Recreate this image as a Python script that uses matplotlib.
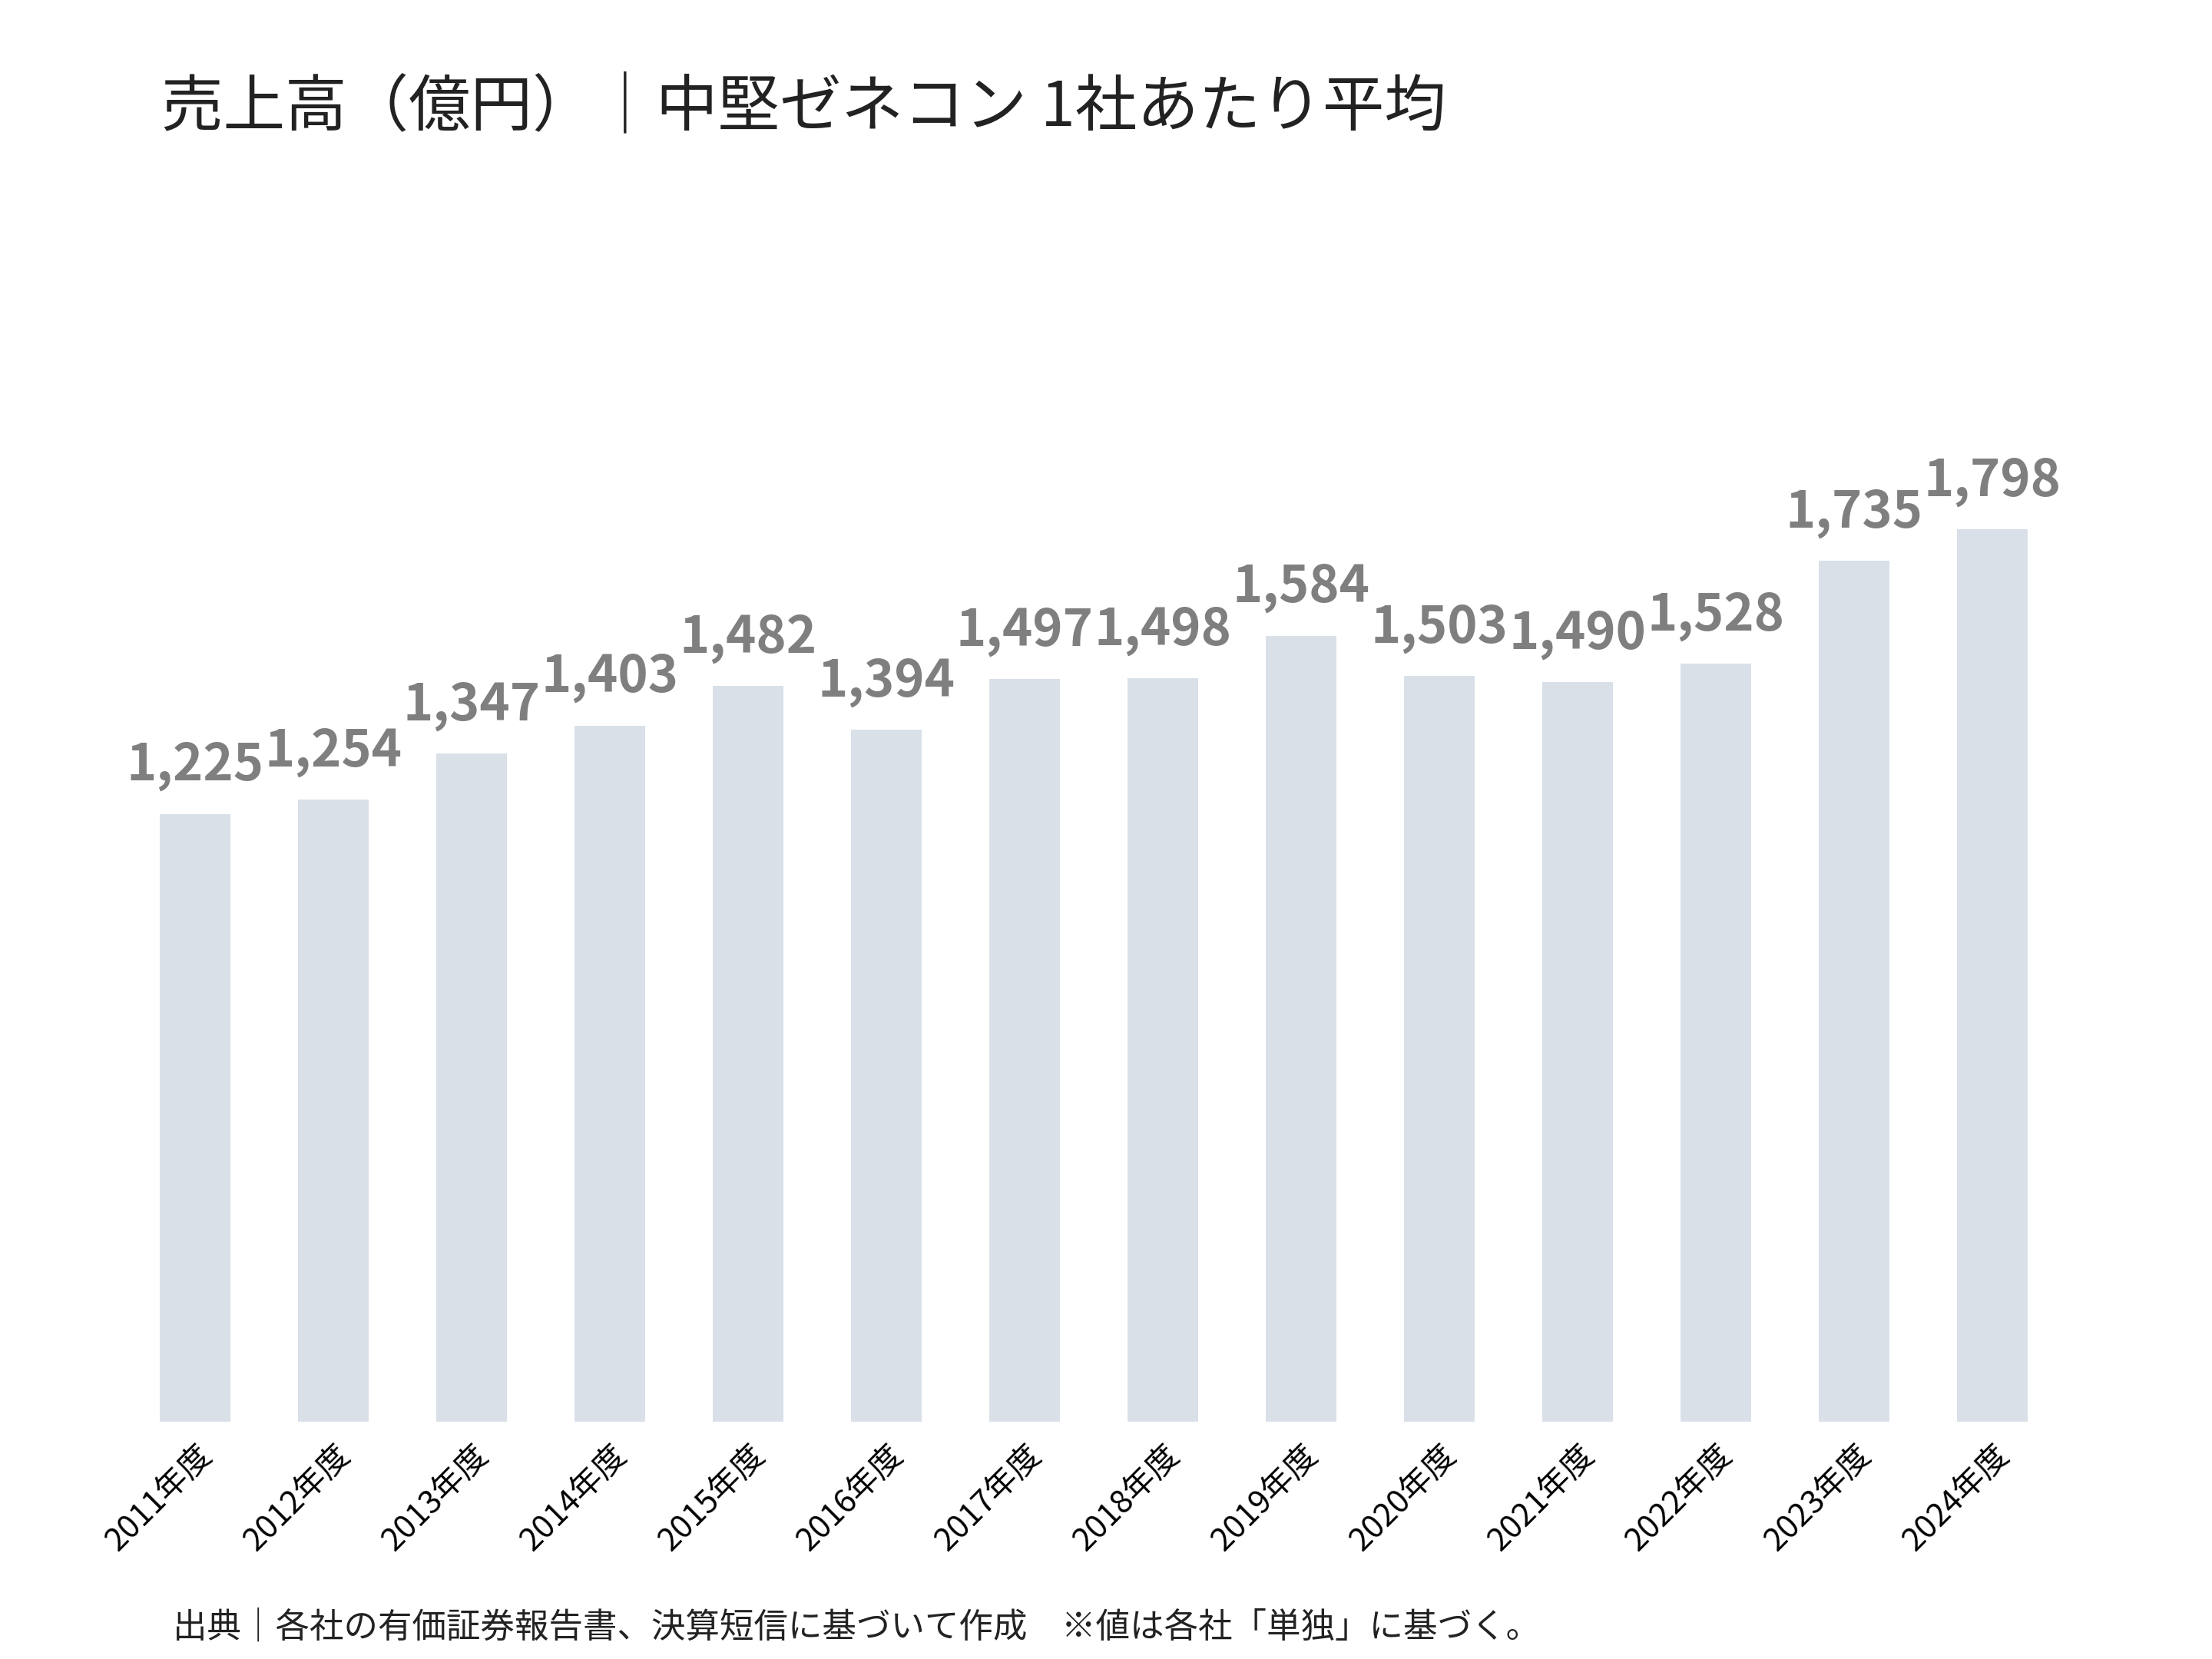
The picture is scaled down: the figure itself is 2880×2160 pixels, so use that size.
import matplotlib.pyplot as plt

plt.rcParams['font.family'] = ['Noto Sans CJK JP', 'DejaVu Sans']

years = ['2011年度', '2012年度', '2013年度', '2014年度', '2015年度', '2016年度', '2017年度',
         '2018年度', '2019年度', '2020年度', '2021年度', '2022年度', '2023年度', '2024年度']
sales = [1225, 1254, 1347, 1403, 1482, 1394, 1497, 1498, 1584, 1503, 1490, 1528, 1735, 1798]

fig = plt.figure(figsize=(14.4, 10.8), dpi=200)
ax = fig.add_axes([0.057, 0.143, 0.875, 0.718])

x = range(len(years))
ax.bar(x, sales, width=0.51, color='#dae0e8')
for i, v in zip(x, sales):
    ax.text(i, v + 45, f'{v:,}', ha='center', va='bottom', fontsize=24,
            fontweight='bold', color='#7f7f7f')

ax.set_xlim(-0.5, len(years) - 0.5)
ax.set_ylim(0, 2400)
ax.set_xticks(list(x))
ax.set_xticklabels(years, rotation=45, ha='right', rotation_mode='anchor', fontsize=15)
ax.tick_params(axis='x', length=0, pad=8)
ax.set_yticks([])
for s in ax.spines.values():
    s.set_visible(False)

fig.text(0.073, 0.935, '売上高（億円）｜中堅ゼネコン 1社あたり平均', fontsize=29, color='#222222',
         va='center')
fig.text(0.078, 0.013, '出典｜各社の有価証券報告書、決算短信に基づいて作成　※値は各社「単独」に基づく。',
         fontsize=16, color='#222222')

fig.savefig('out.png')
